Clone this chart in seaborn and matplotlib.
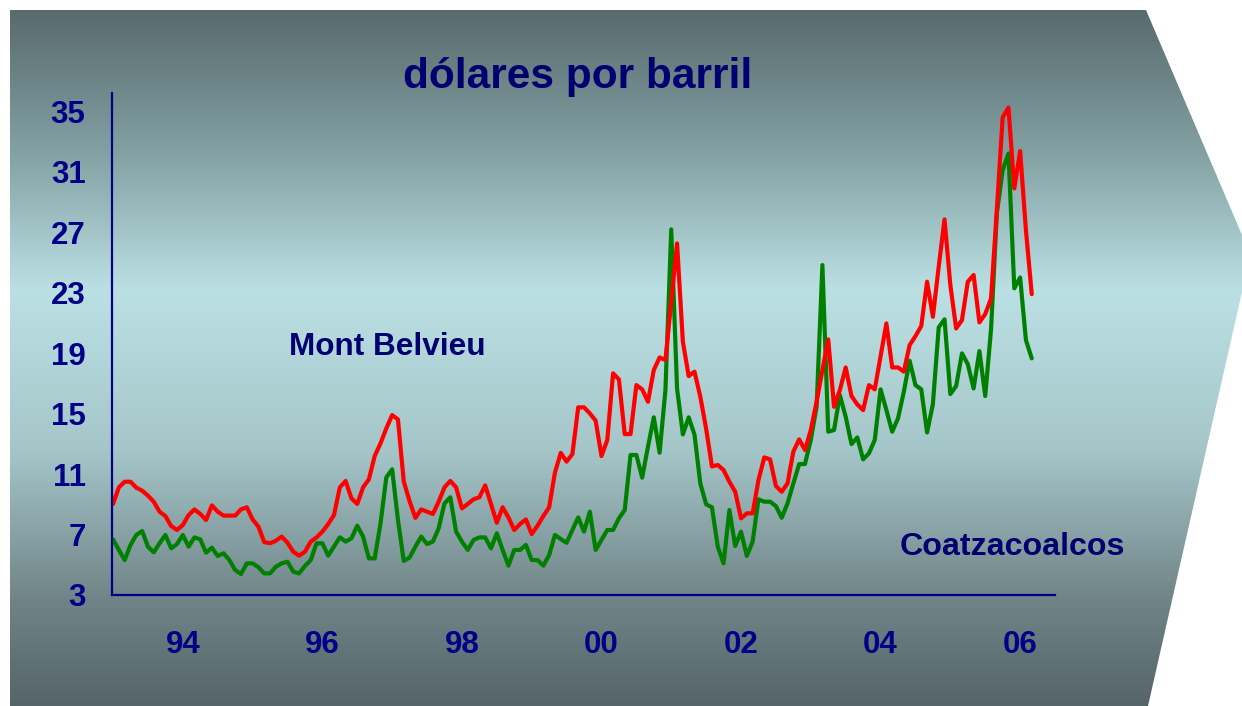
import numpy as np
import matplotlib
matplotlib.use("Agg")
import matplotlib.pyplot as plt
import seaborn as sns
import pandas as pd
from matplotlib.patches import Polygon

# ---- data (monthly, Jan 1993 - Mar 2006), dollars per barrel ----
mont_belvieu = [
    9.02, 10.12, 10.49, 10.49, 10.10, 9.90, 9.57, 9.17, 8.51, 8.22, 7.56, 7.30,
    7.63, 8.29, 8.66, 8.36, 7.96, 8.93, 8.51, 8.25, 8.25, 8.25, 8.66, 8.80,
    8.00, 7.52, 6.50, 6.42, 6.59, 6.86, 6.46, 5.86, 5.60, 5.86, 6.53, 6.81,
    7.19, 7.69, 8.29, 10.12, 10.54, 9.39, 9.02, 10.12, 10.65, 12.19, 13.03, 14.02,
    14.90, 14.61, 10.50, 9.20, 8.10, 8.66, 8.51, 8.36, 9.17, 10.12, 10.54, 10.12,
    8.73, 9.02, 9.33, 9.46, 10.25, 9.02, 7.78, 8.80, 8.13, 7.30, 7.69, 8.00,
    7.03, 7.58, 8.22, 8.80, 11.10, 12.40, 11.82, 12.32, 15.41, 15.41, 15.01, 14.53,
    12.19, 13.25, 17.66, 17.26, 13.64, 13.64, 16.88, 16.60, 15.78, 17.88, 18.71, 18.54,
    22.40, 26.25, 19.75, 17.48, 17.77, 16.11, 14.00, 11.50, 11.60, 11.26, 10.49, 9.83,
    8.07, 8.40, 8.40, 10.60, 12.10, 11.97, 10.21, 9.83, 10.38, 12.48, 13.29, 12.59,
    13.91, 15.78, 17.88, 19.90, 15.45, 16.55, 18.05, 16.16, 15.60, 15.23, 16.88, 16.60,
    18.76, 20.96, 18.05, 18.05, 17.77, 19.53, 20.12, 20.79, 23.72, 21.40, 24.71, 27.84,
    23.50, 20.63, 21.18, 23.72, 24.16, 21.03, 21.58, 22.61, 28.50, 34.58, 35.24, 29.89,
    32.36, 27.13, 22.90,
]
coatzacoalcos = [
    6.68, 5.98, 5.31, 6.31, 6.97, 7.23, 6.20, 5.82, 6.42, 6.97, 6.09, 6.37,
    6.97, 6.20, 6.81, 6.68, 5.80, 6.13, 5.58, 5.76, 5.31, 4.65, 4.39, 5.09,
    5.09, 4.84, 4.43, 4.43, 4.87, 5.09, 5.20, 4.54, 4.43, 4.92, 5.31, 6.42,
    6.42, 5.60, 6.20, 6.81, 6.53, 6.75, 7.58, 6.86, 5.42, 5.42, 7.74, 10.78,
    11.31, 7.96, 5.25, 5.48, 6.20, 6.86, 6.37, 6.53, 7.41, 9.06, 9.46, 7.19,
    6.53, 5.98, 6.64, 6.81, 6.81, 6.09, 7.08, 5.98, 4.94, 5.98, 5.98, 6.31,
    5.31, 5.31, 4.94, 5.64, 6.97, 6.70, 6.45, 7.30, 8.13, 7.19, 8.51, 5.98,
    6.64, 7.30, 7.30, 8.07, 8.62, 12.26, 12.26, 10.76, 12.81, 14.75, 12.41, 16.55,
    27.18, 16.66, 13.62, 14.75, 13.60, 10.38, 9.00, 8.80, 6.20, 5.09, 8.62, 6.24,
    7.19, 5.58, 6.53, 9.33, 9.17, 9.17, 8.88, 8.11, 9.06, 10.38, 11.66, 11.66,
    13.25, 15.45, 24.82, 13.80, 13.91, 16.22, 14.79, 12.98, 13.42, 11.97, 12.37, 13.25,
    16.60, 15.23, 13.80, 14.68, 16.44, 18.49, 16.88, 16.60, 13.75, 15.63, 20.70, 21.23,
    16.29, 16.82, 18.98, 18.27, 16.66, 19.13, 16.16, 20.57, 28.24, 31.10, 32.20, 23.28,
    24.00, 19.86, 18.65,
]
start_year = 1993
x_tick_years = [1994, 1996, 1998, 2000, 2002, 2004, 2006]
x_tick_labels = ["94", "96", "98", "00", "02", "04", "06"]
y_ticks = [3, 7, 11, 15, 19, 23, 27, 31, 35]
title = "dólares por barril"
label_mb = "Mont Belvieu"
label_cz = "Coatzacoalcos"

t = start_year + np.arange(len(mont_belvieu)) / 12.0
df = pd.concat([
    pd.DataFrame({"t": t, "v": coatzacoalcos, "serie": label_cz}),
    pd.DataFrame({"t": t, "v": mont_belvieu, "serie": label_mb}),
], ignore_index=True)

sns.set_theme(style="white")
plt.rcParams["font.family"] = ["Liberation Sans", "DejaVu Sans"]

W, H = 1242, 706
fig = plt.figure(figsize=(W / 100, H / 100), dpi=100)
fig.patch.set_facecolor("white")

# ---- background arrow with vertical gradient ----
bg = fig.add_axes([0, 0, 1, 1])
bg.set_xlim(0, W)
bg.set_ylim(H, 0)
bg.axis("off")
stops_y = [10, 150, 290, 450, 600, 706]
stops_c = np.array([
    [88, 106, 110],
    [130, 160, 162],
    [187, 224, 228],
    [165, 198, 201],
    [112, 132, 135],
    [85, 100, 104],
]) / 255.0
yy = np.arange(H)
grad = np.stack([np.interp(yy, stops_y, stops_c[:, k]) for k in range(3)], axis=-1)
img = np.repeat(grad[:, None, :], 2, axis=1)
im = bg.imshow(img, extent=[0, W, H, 0], aspect="auto", interpolation="bilinear")
poly = Polygon([(10, 10), (1146, 10), (1242, 235), (1242, 292), (1148, 706), (10, 706)],
               closed=True, facecolor="none", edgecolor="none", transform=bg.transData)
bg.add_patch(poly)
im.set_clip_path(poly)

# ---- main axes ----
ax = fig.add_axes([112 / W, 1 - 595 / H, (1055 - 112) / W, (595 - 93) / H])
ax.patch.set_alpha(0)
sns.lineplot(data=df, x="t", y="v", hue="serie", hue_order=[label_cz, label_mb],
             palette={label_cz: "#008000", label_mb: "#ff0000"},
             linewidth=3, legend=False, ax=ax)
ax.set_xlim(1992.985, 2006.5)
ax.set_ylim(3, 36.2)
ax.set_xticks(x_tick_years)
ax.set_xticklabels(x_tick_labels)
ax.set_yticks(y_ticks)
ax.set_xlabel("")
ax.set_ylabel("")
navy = "#000088"
txt = "#000070"
for s in ["top", "right"]:
    ax.spines[s].set_visible(False)
for s in ["left", "bottom"]:
    ax.spines[s].set_color(navy)
    ax.spines[s].set_linewidth(1.6)
ax.tick_params(axis="y", length=0, pad=19, labelsize=22.5, labelcolor=navy)
ax.tick_params(axis="x", length=0, pad=25, labelsize=22.5, labelcolor=navy)
for lab in ax.get_xticklabels() + ax.get_yticklabels():
    lab.set_fontweight("bold")
ax.grid(False)

# ---- texts ----
fig.text(577.5 / W, 1 - 87.7 / H, title, ha="center", va="baseline",
         fontsize=30.5, fontweight="bold", color=txt)
fig.text(289 / W, 1 - 355 / H, label_mb, ha="left", va="baseline",
         fontsize=22.7, fontweight="bold", color=txt)
fig.text(900 / W, 1 - 555 / H, label_cz, ha="left", va="baseline",
         fontsize=23.2, fontweight="bold", color=txt)

fig.savefig("out.png", dpi=100)
